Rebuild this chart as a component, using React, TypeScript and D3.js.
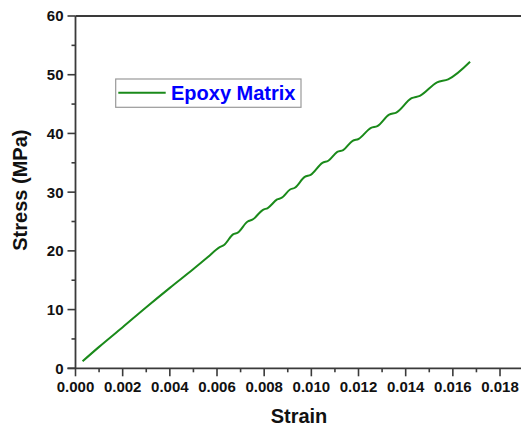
import React from 'react';
import * as d3 from 'd3';

// values (strain, stress in MPa)
const strain = [
  0.0003, 0.001, 0.002, 0.003, 0.004, 0.005, 0.0056,
  0.0061, 0.0063, 0.00668, 0.00688, 0.0073, 0.0075, 0.00795, 0.00815,
  0.00855, 0.00875, 0.0091, 0.0093, 0.00972, 0.00997, 0.01047, 0.01072,
  0.0111, 0.01135, 0.01175, 0.012, 0.01253, 0.0128, 0.0133, 0.0136,
  0.01425, 0.0146, 0.01533, 0.0158, 0.01673,
];
const stress = [
  1.2, 3.65, 7.0, 10.4, 13.7, 16.9, 18.9,
  20.6, 21.0, 22.8, 23.1, 25.0, 25.3, 27.0, 27.3,
  28.75, 29.05, 30.45, 30.75, 32.6, 32.95, 35.0, 35.35,
  36.85, 37.15, 38.75, 39.05, 40.95, 41.25, 43.2, 43.55,
  46.0, 46.4, 48.7, 49.2, 52.2,
];
const xMajor = [0, 0.002, 0.004, 0.006, 0.008, 0.01, 0.012, 0.014, 0.016, 0.018];
const xMinor = [0.001, 0.003, 0.005, 0.007, 0.009, 0.011, 0.013, 0.015, 0.017];
const yMajor = [0, 10, 20, 30, 40, 50, 60];
const yMinor = [5, 15, 25, 35, 45, 55];
const seriesName = 'Epoxy Matrix';

const W = 521;
const H = 428;
const font = '"Liberation Sans", Arial, sans-serif';
const axisColor = '#3a3a3a';
const lineColor = '#1a8a1a';

export default function App() {
  const x = d3.scaleLinear().domain([0, 0.019]).range([75.5, 523.6]);
  const y = d3.scaleLinear().domain([0, 60]).range([368.3, 16]);

  const pts: [number, number][] = strain.map((s, i) => [s, stress[i]]);
  const path = d3.line<[number, number]>()
    .x(d => x(d[0]))
    .y(d => y(d[1]))
    .curve(d3.curveMonotoneX)(pts) || '';

  const x0 = x(0);
  const y0 = y(0);

  return (
    <svg width={W} height={H} style={{ position: 'absolute', left: 0, top: 0, background: '#fff' }}>
      {/* frame: top line, left and bottom axes */}
      <line x1={x0} x2={x(0.019)} y1={y(60)} y2={y(60)} stroke={axisColor} strokeWidth={1.8} />
      <line x1={x0} x2={x0} y1={y(60)} y2={y0} stroke={axisColor} strokeWidth={1.8} />
      <line x1={x0 - 8} x2={x(0.019)} y1={y0} y2={y0} stroke={axisColor} strokeWidth={1.8} />

      {/* y ticks */}
      {yMajor.map(v => (
        <g key={'ym' + v}>
          <line x1={x0 - 8} x2={x0} y1={y(v)} y2={y(v)} stroke={axisColor} strokeWidth={1.6} />
          <text x={x0 - 12} y={y(v)} dy="0.36em" textAnchor="end"
            fontFamily={font} fontWeight="bold" fontSize={15} fill="#111">{v}</text>
        </g>
      ))}
      {yMinor.map(v => (
        <line key={'yn' + v} x1={x0 - 4} x2={x0} y1={y(v)} y2={y(v)} stroke={axisColor} strokeWidth={1.6} />
      ))}

      {/* x ticks */}
      {xMajor.map(v => (
        <g key={'xm' + v}>
          <line x1={x(v)} x2={x(v)} y1={y0} y2={y0 + 8} stroke={axisColor} strokeWidth={1.6} />
          <text x={x(v)} y={392} textAnchor="middle"
            fontFamily={font} fontWeight="bold" fontSize={15} fill="#111">{v.toFixed(3)}</text>
        </g>
      ))}
      {xMinor.map(v => (
        <line key={'xn' + v} x1={x(v)} x2={x(v)} y1={y0} y2={y0 + 4} stroke={axisColor} strokeWidth={1.6} />
      ))}

      {/* axis titles */}
      <text x={299} y={423} textAnchor="middle" fontFamily={font} fontWeight="bold" fontSize={20} fill="#111">Strain</text>
      <text transform={`translate(27,${(y(0) + y(60)) / 2 - 2}) rotate(-90)`} textAnchor="middle"
        fontFamily={font} fontWeight="bold" fontSize={20} fill="#111">Stress (MPa)</text>

      {/* data */}
      <path d={path} fill="none" stroke={lineColor} strokeWidth={2} strokeLinejoin="round" />

      {/* legend */}
      <rect x={115.7} y={79} width={185.3} height={28.3} fill="#fff" stroke="#999" strokeWidth={1.2} />
      <line x1={118.3} x2={165.7} y1={92.7} y2={92.7} stroke={lineColor} strokeWidth={2} />
      <text x={171} y={100.3} fontFamily={font} fontWeight="bold" fontSize={20} fill="#0000ff">{seriesName}</text>
    </svg>
  );
}
